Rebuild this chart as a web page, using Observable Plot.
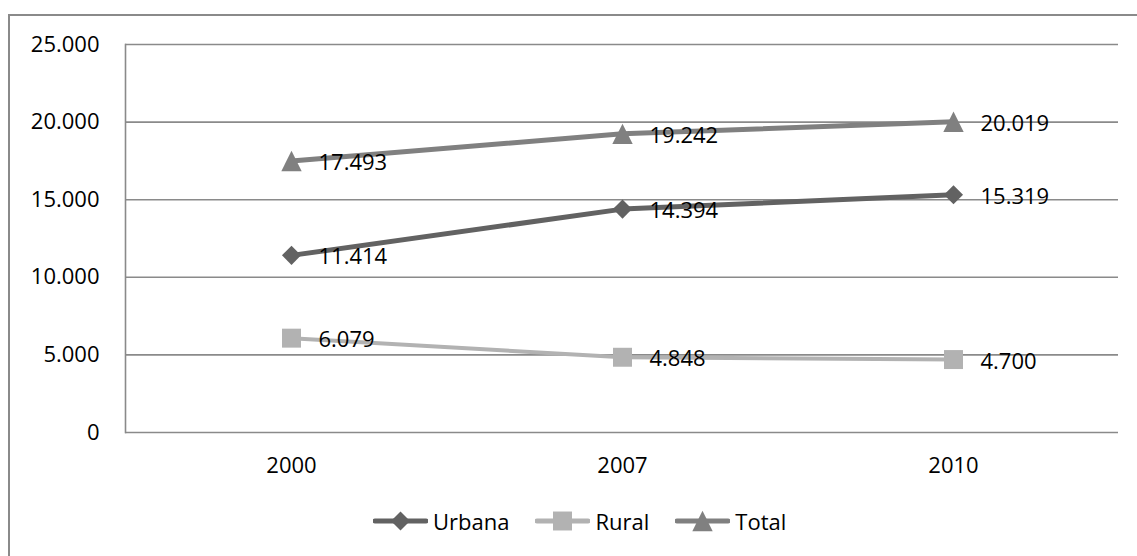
<!DOCTYPE html>
<html>
<head>
<meta charset="utf-8">
<script src="https://cdn.jsdelivr.net/npm/d3@7"></script>
<script src="https://cdn.jsdelivr.net/npm/@observablehq/plot@0.6"></script>
<style>
  html, body { margin: 0; padding: 0; background: #fff; overflow: hidden; }
  #wrap { position: relative; width: 1137px; height: 556px; overflow: hidden; font-family: "Open Sans", sans-serif; }
  #frame { position: absolute; left: 8px; top: 14px; width: 1300px; height: 700px; border: 2px solid #8a8a8a; box-sizing: border-box; }
  #chart { position: absolute; left: 0; top: 0; }
  #legend { position: absolute; left: 373px; top: 506px; display: flex; align-items: center; font-size: 22px; color: #000; }
  .item { display: flex; align-items: center; margin-right: 26px; }
  .item svg { margin-right: 5px; }
</style>
</head>
<body>
<div id="wrap">
  <div id="frame"></div>
  <div id="chart"></div>
  <div id="legend"></div>
</div>
<script>
const years = ["2000", "2007", "2010"];
const series = ["Urbana", "Rural", "Total"];
const urbana = [11414, 14394, 15319];
const rural = [6079, 4848, 4700];
const total = [17493, 19242, 20019];
const yTicks = [0, 5000, 10000, 15000, 20000, 25000];
const colors = ["#626262", "#b2b2b2", "#808080"];
const widths = [5, 4, 5];

// marker shapes (size = area-based like d3 symbols)
const triangleSq = {
  draw(context, size) {
    const s = Math.sqrt(size) * 1.15; // side ~ height
    const h = s / 2;
    context.moveTo(0, -h);
    context.lineTo(h, h);
    context.lineTo(-h, h);
    context.closePath();
  }
};
const symbolTypes = [d3.symbolDiamond2, d3.symbolSquare, triangleSq];
const radii = [8.6, 10.7, 10.0];

const values = [urbana, rural, total];
const data = [];
series.forEach((s, si) => years.forEach((yr, i) => data.push({series: s, year: yr, value: values[si][i]})));

const loc = d3.formatLocale({decimal: ",", thousands: ".", grouping: [3], currency: ["", ""]});
const fmt = loc.format(",d");

const marks = [
  Plot.gridY(yTicks, {stroke: "#8a8a8a", strokeOpacity: 1, strokeWidth: 1.6}),
  Plot.frame({anchor: "left", stroke: "#8a8a8a", strokeWidth: 1.6}),
  Plot.axisY(yTicks, {tickSize: 0, tickPadding: 26, tickFormat: fmt, fontSize: 22, fill: "#000", label: null}),
  Plot.axisX({tickSize: 0, tickPadding: 25, fontSize: 22, fill: "#000", label: null})
];
series.forEach((s, si) => {
  marks.push(Plot.line(data, {filter: d => d.series === s, x: "year", y: "value", stroke: colors[si], strokeWidth: widths[si]}));
});
series.forEach((s, si) => {
  marks.push(Plot.dot(data, {filter: d => d.series === s, x: "year", y: "value", symbol: symbolTypes[si], r: radii[si], fill: colors[si], stroke: "none"}));
});
series.forEach((s, si) => {
  marks.push(Plot.text(data, {filter: d => d.series === s, x: "year", y: "value", text: d => fmt(d.value), textAnchor: "start", dx: 27, dy: 2, fontSize: 22, fill: "#000"}));
});

const plot = Plot.plot({
  width: 1137,
  height: 490,
  marginLeft: 125,
  marginRight: 19,
  marginTop: 44,
  marginBottom: 58,
  style: {fontFamily: "Open Sans, sans-serif", background: "transparent", overflow: "visible"},
  x: {type: "point", domain: years, padding: 0.5},
  y: {domain: [0, 25000]},
  marks
});
document.getElementById("chart").appendChild(plot);

// legend
const legend = document.getElementById("legend");
series.forEach((s, si) => {
  const item = document.createElement("div");
  item.className = "item";
  const svg = d3.create("svg").attr("width", 55).attr("height", 24);
  svg.append("line").attr("x1", 2).attr("x2", 53).attr("y1", 12).attr("y2", 12)
    .attr("stroke", colors[si]).attr("stroke-width", 5).attr("stroke-linecap", "round");
  svg.append("path").attr("transform", "translate(27.5,12)")
    .attr("d", d3.symbol(symbolTypes[si], Math.PI * radii[si] * radii[si])())
    .attr("fill", colors[si]);
  item.appendChild(svg.node());
  const t = document.createElement("span");
  t.textContent = s;
  item.appendChild(t);
  legend.appendChild(item);
});
</script>
</body>
</html>
